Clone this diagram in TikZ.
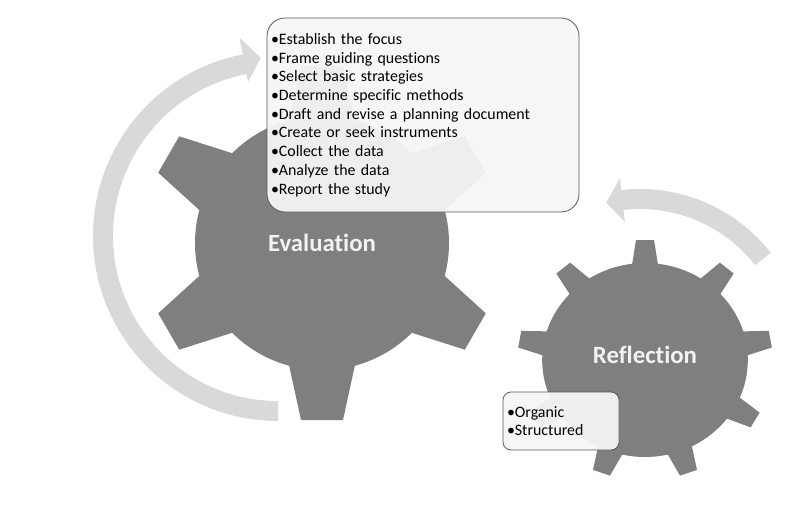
\documentclass[tikz,border=0pt]{standalone}
\usepackage{fontspec}
\setmainfont{Carlito}[Ligatures=NoCommon]
\definecolor{gearfill}{HTML}{7F7F7F}
\definecolor{arrowfill}{HTML}{D9D9D9}
\definecolor{boxline}{HTML}{595959}
\definecolor{boxfill}{HTML}{F5F5F5}
\definecolor{gearlabel}{HTML}{F2F2F2}
\tikzset{
	gear/.style={fill=gearfill},
	cyclearrow/.style={fill=arrowfill},
	listbox/.style={rectangle, rounded corners=#1, draw=boxline, line width=0.8pt, fill=boxfill, fill opacity=0.94, text opacity=1, align=left, inner xsep=4pt, font=\fontsize{15.9}{18.7}\selectfont},
	listbox/.default=18pt,
	gearname/.style={text=gearlabel, font=\fontsize{24.8}{28}\selectfont\bfseries}
}
\begin{document}
\begin{tikzpicture}[x=1pt, y=1pt]
		\useasboundingbox (0,0) rectangle (802,515);
		
		% arrows
		\begin{scope}[shift={(278,279)}]
			\fill[cyclearrow] (270:185pt) arc[start angle=270, end angle=101, radius=185pt] -- (101:202pt) -- (95.5:179pt) -- (101:157pt) -- (101:165pt) arc[start angle=101, end angle=270, radius=165pt] -- cycle;
		\end{scope}
		\begin{scope}[shift={(640,160)}]
			\fill[cyclearrow] (38:166pt) arc[start angle=38, end angle=96.5, radius=166pt] -- (96.5:178pt) -- (102.5:156pt) -- (96.5:134pt) -- (96.5:146pt) arc[start angle=96.5, end angle=38, radius=146pt] -- cycle;
		\end{scope}
		
		% gears
		\fill[gear] (322,272) circle[radius=127pt];
		\foreach \a in {30,90,...,330}
			\fill[gear, shift={(322,272)}, rotate=\a] (110,-35.6) -- (177,-21) -- (177,21) -- (110,35.6) -- cycle;
		\fill[gear, shift={(645,155)}, xscale=1.06] (0,0) circle[radius=97pt];
		\foreach \a in {10,50,...,330}
			\fill[gear, shift={(645,155)}, xscale=1.06, rotate=\a] (85,-13.8) -- (120,-8.5) -- (120,8.5) -- (85,13.8) -- cycle;
		
		\node (eval) [gearname] at (322,272) {Evaluation};
		\node (refl) [gearname] at (645,160) {Reflection};
		
		\node (plan) [listbox, minimum width=310pt, minimum height=194pt, text width=304pt] at (423,400) {•Establish the focus\\•Frame guiding questions\\•Select basic strategies\\•Determine specific methods\\•Draft and revise a planning document\\•Create or seek instruments\\•Collect the data\\•Analyze the data\\•Report the study};
		\node (modes) [listbox=8pt, minimum width=116pt, minimum height=58pt, text width=108pt] at (561,94) {•Organic\\•Structured};
	\end{tikzpicture}
\end{document}
